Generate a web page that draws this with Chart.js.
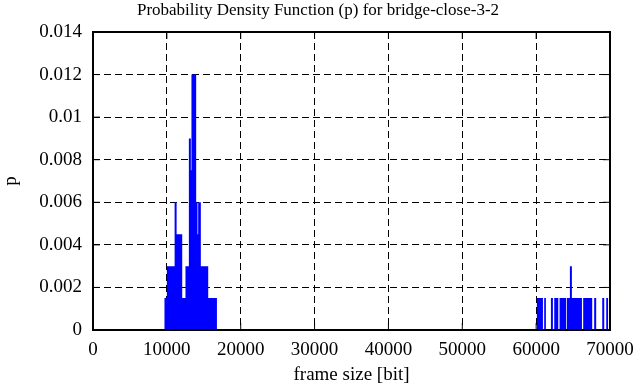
<!DOCTYPE html>
<html>
<head>
<meta charset="utf-8">
<script src="https://cdn.jsdelivr.net/npm/chart.js@4"></script>
<style>
  html, body { margin: 0; padding: 0; background: #fff; }
  #wrap { width: 636px; height: 387px; }
</style>
</head>
<body>
<div id="wrap"><canvas id="chart-pdf"></canvas></div>
<script>
// Histogram of frame sizes: each p value holds from its edge up to the next edge
const frameSizeEdges = [
    9650, 10000, 11050, 11320, 12080, 12520, 12980, 13250, 13330, 13970, 14150, 14240, 14600, 15600, 16780,
    60100, 60920, 61090, 61320, 62000, 62270, 62450, 63000, 63170, 64070, 64170,
    64570, 64840, 66200, 66370, 67590, 67860, 68130, 68950, 69220, 69490, 69760
];
const pValues = [
    0.0015, 0.003, 0.006, 0.0045, 0.0015, 0.003, 0.009, 0.0075, 0.012, 0.006, 0.0045, 0.006, 0.003, 0.0015, 0,
    0.0015, 0, 0.0015, 0, 0.0015, 0, 0.0015, 0, 0.0015, 0, 0.0015,
    0.003, 0.0015, 0, 0.0015, 0, 0.0015, 0, 0.0015, 0, 0.0015, 0
];
const xTicks = [0, 10000, 20000, 30000, 40000, 50000, 60000, 70000];
const yTicks = [0, 0.002, 0.004, 0.006, 0.008, 0.01, 0.012, 0.014];

const serif = 'Liberation Serif';

// gnuplot style box: inward tic marks and a solid border
const framePlugin = {
    id: 'frame',
    beforeDatasetsDraw(chart) {
        const { ctx, chartArea: a, scales: { x, y } } = chart;
        ctx.save();
        ctx.strokeStyle = '#000';
        ctx.lineWidth = 1;
        ctx.beginPath();
        xTicks.forEach(v => {
            const px = x.getPixelForValue(v);
            ctx.moveTo(px, a.bottom); ctx.lineTo(px, a.bottom - 7);
            ctx.moveTo(px, a.top); ctx.lineTo(px, a.top + 7);
        });
        yTicks.forEach(v => {
            const py = y.getPixelForValue(v);
            ctx.moveTo(a.left, py); ctx.lineTo(a.left + 7, py);
            ctx.moveTo(a.right, py); ctx.lineTo(a.right - 7, py);
        });
        ctx.stroke();
        ctx.restore();
    },
    afterDraw(chart) {
        const { ctx, chartArea: a } = chart;
        ctx.save();
        ctx.strokeStyle = '#000';
        ctx.lineWidth = 2;
        ctx.strokeRect(a.left, a.top, a.right - a.left, a.bottom - a.top);
        ctx.restore();
    }
};

new Chart(document.getElementById('chart-pdf'), {
    type: 'line',
    data: {
        datasets: [{
            label: 'p',
            data: frameSizeEdges.map((x, i) => ({ x: x, y: pValues[i] })),
            stepped: true,
            fill: 'origin',
            backgroundColor: '#0000ff',
            borderColor: 'rgba(0,0,0,0)',
            borderWidth: 0,
            pointRadius: 0,
            tension: 0
        }]
    },
    options: {
        responsive: true,
        maintainAspectRatio: false,
        animation: false,
        layout: { padding: 0 },
        plugins: {
            legend: { display: false },
            tooltip: { enabled: false },
            title: {
                display: true,
                text: 'Probability Density Function (p) for bridge-close-3-2',
                color: '#000',
                font: { family: serif, size: 17, weight: 'normal' },
                padding: { top: 0, bottom: 11.6 }
            }
        },
        scales: {
            x: {
                type: 'linear',
                min: 0,
                max: 70000,
                afterBuildTicks: s => { s.ticks = xTicks.map(v => ({ value: v })); },
                afterFit: s => { s.height = 57; s.paddingRight = 26; s.paddingLeft = 0; },
                ticks: {
                    color: '#000',
                    padding: 9,
                    maxRotation: 0,
                    font: { family: serif, size: 19 },
                    callback: v => String(v)
                },
                grid: { color: '#000', lineWidth: 1, drawTicks: false },
                border: { display: false, dash: [7, 4] },
                title: {
                    display: true,
                    text: 'frame size [bit]',
                    color: '#000',
                    font: { family: serif, size: 19 },
                    padding: { top: 0, bottom: 1 }
                }
            },
            y: {
                min: 0,
                max: 0.014,
                afterBuildTicks: s => { s.ticks = yTicks.map(v => ({ value: v })); },
                afterFit: s => { s.width = 93; },
                ticks: {
                    color: '#000',
                    padding: 11,
                    font: { family: serif, size: 19 },
                    callback: v => String(+v.toFixed(4))
                },
                grid: { color: '#000', lineWidth: 1, drawTicks: false },
                border: { display: false, dash: [7, 4] },
                title: {
                    display: true,
                    text: 'p',
                    color: '#000',
                    font: { family: serif, size: 19 },
                    padding: { top: 0, bottom: 0 }
                }
            }
        }
    },
    plugins: [framePlugin]
});
</script>
</body>
</html>
